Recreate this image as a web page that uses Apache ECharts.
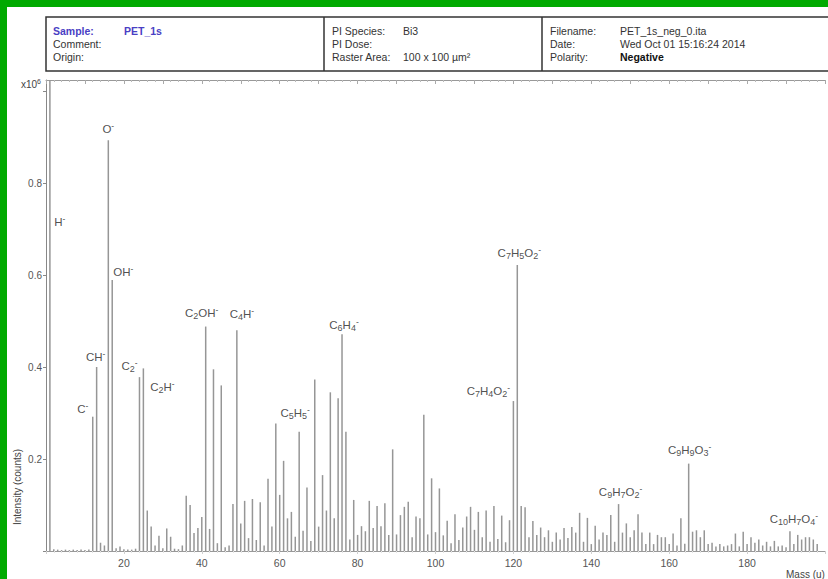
<!DOCTYPE html>
<html>
<head>
<meta charset="utf-8">
<script src="https://cdn.jsdelivr.net/npm/echarts@6/dist/echarts.min.js"></script>
<style>
  html, body { margin: 0; padding: 0; background: #fff; overflow: hidden; }
  #chart { width: 828px; height: 579px; }
</style>
</head>
<body>
<div id="chart"></div>
<script>
// nominal mass (u) of each peak, 1..198
const masses = [];
for (let m = 1; m <= 198; m++) masses.push(m);

// peak intensity in units of 1e6 counts (H- is off scale)
const intensity = [
  2.0, 0.004, 0.003, 0.002, 0.003, 0.002, 0.003, 0.002, 0.003, 0.002,   // 1-10
  0.003, 0.292, 0.400, 0.018, 0.012, 0.893, 0.589, 0.006, 0.010, 0.004, // 11-20
  0.003, 0.003, 0.005, 0.378, 0.397, 0.088, 0.053, 0.012, 0.033, 0.006, // 21-30
  0.049, 0.031, 0.005, 0.004, 0.012, 0.120, 0.100, 0.039, 0.050, 0.074, // 31-40
  0.488, 0.048, 0.395, 0.017, 0.360, 0.008, 0.012, 0.102, 0.480, 0.060, // 41-50
  0.109, 0.028, 0.113, 0.024, 0.106, 0.012, 0.157, 0.053, 0.277, 0.122, // 51-60
  0.196, 0.071, 0.085, 0.031, 0.259, 0.044, 0.138, 0.022, 0.373, 0.053, // 61-70
  0.165, 0.088, 0.345, 0.071, 0.332, 0.471, 0.259, 0.025, 0.111, 0.035, // 71-80
  0.054, 0.043, 0.109, 0.050, 0.098, 0.054, 0.104, 0.035, 0.221, 0.036, // 81-90
  0.078, 0.096, 0.107, 0.030, 0.075, 0.071, 0.296, 0.036, 0.158, 0.041, // 91-100
  0.136, 0.034, 0.066, 0.017, 0.080, 0.024, 0.051, 0.075, 0.096, 0.046, // 101-110
  0.085, 0.030, 0.088, 0.020, 0.098, 0.026, 0.077, 0.019, 0.067, 0.326, // 111-120
  0.622, 0.098, 0.095, 0.030, 0.065, 0.035, 0.051, 0.030, 0.045, 0.020, // 121-130
  0.040, 0.025, 0.050, 0.028, 0.052, 0.040, 0.083, 0.020, 0.072, 0.015, // 131-140
  0.055, 0.025, 0.040, 0.035, 0.078, 0.020, 0.102, 0.040, 0.060, 0.030, // 141-150
  0.045, 0.080, 0.040, 0.015, 0.040, 0.015, 0.035, 0.030, 0.030, 0.015, // 151-160
  0.038, 0.012, 0.071, 0.016, 0.190, 0.042, 0.045, 0.030, 0.045, 0.015, // 161-170
  0.018, 0.010, 0.015, 0.010, 0.012, 0.015, 0.038, 0.010, 0.042, 0.015, // 171-180
  0.030, 0.018, 0.025, 0.012, 0.020, 0.010, 0.022, 0.010, 0.012, 0.008, // 181-190
  0.043, 0.015, 0.035, 0.025, 0.030, 0.030, 0.025, 0.015                // 191-198
];

// peak assignments
const labelMasses = [1, 12, 13, 16, 17, 24, 25, 41, 49, 65, 76, 120, 121, 147, 165, 191];
const labelTexts = [
  'H{p|-}', 'C{p|-}', 'CH{p|-}', 'O{p|-}', 'OH{p|-}',
  'C{b|2}{p|-}', 'C{b|2}H{p|-}', 'C{b|2}OH{p|-}', 'C{b|4}H{p|-}',
  'C{b|5}H{b|5}{p|-}', 'C{b|6}H{b|4}{p|-}',
  'C{b|7}H{b|4}O{b|2}{p|-}', 'C{b|7}H{b|5}O{b|2}{p|-}',
  'C{b|9}H{b|7}O{b|2}{p|-}', 'C{b|9}H{b|9}O{b|3}{p|-}', 'C{b|10}H{b|7}O{b|4}{p|-}'
];

const xTicks = [20, 40, 60, 80, 100, 120, 140, 160, 180];
const yTicks = [0.2, 0.4, 0.6, 0.8];

// label placement relative to the peak top (px)
const labelOffsets = {
  1: [10, 142], 12: [-10, -8], 13: [-1, -10], 16: [0, -11], 17: [11, -8],
  24: [-10, -11], 25: [19, 19], 41: [-4, -14], 49: [5, -16], 65: [-4, -19],
  76: [2, -9], 120: [-25, -10], 121: [2, -12], 147: [2, -12], 165: [1, -14], 191: [4, -12]
};

const yMax = 1.024;
const font = 'Liberation Sans, Arial, sans-serif';

const chart = echarts.init(document.getElementById('chart'), null, { renderer: 'svg' });

const peakData = masses.map((m, i) => [m, intensity[i]]);
const labelData = labelMasses.map((m, i) => ({
  value: [m, Math.min(intensity[masses.indexOf(m)], yMax)],
  label: { formatter: labelTexts[i], offset: labelOffsets[m] }
}));

const hdr = (x, y, text, extra) => ({
  type: 'text', x: x, y: y,
  style: Object.assign({ text: text, fill: '#333', font: '10.5px ' + font, verticalAlign: 'middle' }, extra || {})
});

chart.setOption({
  backgroundColor: '#fff',
  animation: false,
  grid: { left: 46, right: -6, top: 80, bottom: 28 },
  xAxis: [
    {
      type: 'value', min: 0, max: 200, interval: 20,
      axisLine: { lineStyle: { color: '#999', width: 1 } },
      axisTick: { show: true, length: 3, lineStyle: { color: '#d0d0d0' } },
      minorTick: { show: true, splitNumber: 10, length: 2, lineStyle: { color: '#e2e2e2' } },
      splitLine: { show: false },
      axisLabel: {
        color: '#555', fontSize: 10.5, fontFamily: font, margin: 6,
        formatter: v => (xTicks.indexOf(v) >= 0 ? String(v) : '')
      }
    },
    {
      type: 'value', position: 'top', min: 0, max: 200, interval: 10,
      axisLine: { show: true, lineStyle: { color: '#999', width: 1 } },
      axisTick: { show: true, inside: true, length: 4, lineStyle: { color: '#aaa' } },
      minorTick: { show: true, splitNumber: 5, length: 2, lineStyle: { color: '#bbb' } },
      splitLine: { show: false },
      axisLabel: { show: false }
    }
  ],
  yAxis: {
    type: 'value', min: 0, max: yMax, interval: 0.2,
    axisLine: { show: true, lineStyle: { color: '#888', width: 1 } },
    axisTick: { show: true, length: 3, lineStyle: { color: '#888' } },
    splitLine: { show: false },
    axisLabel: {
      color: '#555', fontSize: 10, fontFamily: font, margin: 4, showMaxLabel: false,
      formatter: v => {
        const hit = yTicks.find(t => Math.abs(t - v) < 1e-6);
        return hit ? hit.toFixed(1) : '';
      }
    }
  },
  series: [
    {
      type: 'bar', xAxisIndex: 0, data: peakData, barWidth: 1.5, clip: true,
      itemStyle: { color: '#969696' }, silent: true
    },
    {
      type: 'scatter', xAxisIndex: 0, data: labelData, symbolSize: 1, clip: false,
      itemStyle: { color: 'rgba(0,0,0,0)' }, silent: true,
      label: {
        show: true, position: 'inside', color: '#222', fontSize: 11.5, fontFamily: font,
        lineHeight: 15,
        rich: {
          b: { fontSize: 9, fontFamily: font, color: '#222', verticalAlign: 'bottom', lineHeight: 15 },
          p: { fontSize: 8.5, fontFamily: font, color: '#222', verticalAlign: 'top', lineHeight: 15 }
        }
      }
    }
  ],
  graphic: [
    // green frame
    { type: 'rect', shape: { x: 0, y: 0, width: 828, height: 7 }, style: { fill: '#00aa00' } },
    { type: 'rect', shape: { x: 0, y: 0, width: 7, height: 579 }, style: { fill: '#00aa00' } },
    // header box
    { type: 'rect', shape: { x: 46, y: 17, width: 800, height: 54 }, style: { fill: '#fff', stroke: '#333', lineWidth: 1.5 } },
    { type: 'line', shape: { x1: 324, y1: 17, x2: 324, y2: 71 }, style: { stroke: '#333', lineWidth: 1.5 } },
    { type: 'line', shape: { x1: 542, y1: 17, x2: 542, y2: 71 }, style: { stroke: '#333', lineWidth: 1.5 } },
    hdr(53, 31, 'Sample:', { fill: '#4a3fc4', font: 'bold 10.5px ' + font }),
    hdr(124, 31, 'PET_1s', { fill: '#4a3fc4', font: 'bold 10.5px ' + font }),
    hdr(53, 44, 'Comment:'),
    hdr(53, 57, 'Origin:'),
    hdr(332, 31, 'PI Species:'),
    hdr(403, 31, 'Bi3'),
    hdr(332, 44, 'PI Dose:'),
    hdr(332, 57, 'Raster Area:'),
    hdr(403, 57, '100 x 100 µm²'),
    hdr(550, 31, 'Filename:'),
    hdr(620, 31, 'PET_1s_neg_0.ita'),
    hdr(550, 44, 'Date:'),
    hdr(620, 44, 'Wed Oct 01 15:16:24 2014'),
    hdr(550, 57, 'Polarity:'),
    hdr(620, 57, 'Negative', { fill: '#111', font: 'bold 10.5px ' + font }),
    // axis annotations
    {
      type: 'text', x: 21, y: 84,
      style: {
        text: 'x10{s|6}', fill: '#444', font: '10px ' + font, verticalAlign: 'middle',
        rich: { s: { fontSize: 7, fontFamily: font, fill: '#444', verticalAlign: 'top', lineHeight: 12 } }
      }
    },
    {
      type: 'text', x: 17.5, y: 487, rotation: Math.PI / 2,
      style: { text: 'Intensity (counts)', fill: '#444', font: '10px ' + font, align: 'center', verticalAlign: 'middle' }
    },
    hdr(786, 574, 'Mass (u)', { fill: '#444', font: '10px ' + font })
  ]
});
</script>
</body>
</html>
